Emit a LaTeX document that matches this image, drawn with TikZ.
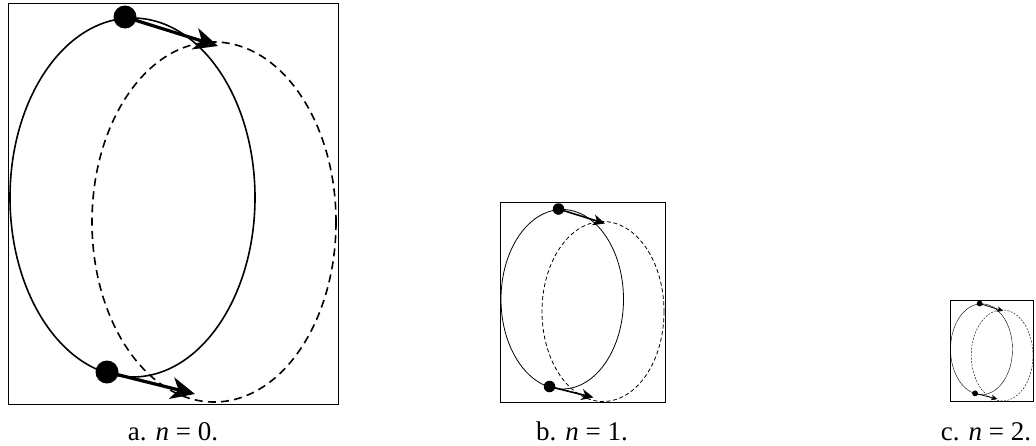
\documentclass[tikz,border=0pt]{standalone}
\usepackage{fontspec}
\setmainfont{Liberation Serif}
\usetikzlibrary{arrows.meta}
\newcommand\drawpanel[4]{%
  \pgfmathsetlengthmacro\lwell{#3*0.8pt}%
  \pgfmathsetlengthmacro\lwarr{#3*1.6pt}%
  \pgfmathsetlengthmacro\tiplen{#3*12pt}%
  \pgfmathsetlengthmacro\tipwid{#3*11pt}%
  \pgfmathsetlengthmacro\tipins{#3*3.5pt}%
  \pgfmathsetlengthmacro\dashon{#3*4pt}%
  \pgfmathsetlengthmacro\dashoff{#3*2.6pt}%
  \begin{scope}[shift={(#1,#2)}, scale=#3]
    \node[frame, minimum width=#3*165pt, minimum height=#3*200.5pt] (fr#4) at (165,200.5) {};
    \draw[line width=\lwell] (124.5,194.5) ellipse [x radius=122.5, y radius=179.5];
    \draw[line width=\lwell, dash pattern=on \dashon off \dashoff] (206,219) ellipse [x radius=122, y radius=180];
    \coordinate (tt#4) at (210,43);
    \coordinate (bt#4) at (187,391);
    \fill (117,14) circle (11.5);
    \fill (99,369) circle (11.5);
    \node[dotnode] (td#4) at (117,14) {};
    \node[dotnode] (bd#4) at (99,369) {};
    \draw[line width=\lwarr, -{Stealth[length=\tiplen, width=\tipwid, inset=\tipins]}] (td#4.center) -- (tt#4);
    \draw[line width=\lwarr, -{Stealth[length=\tiplen, width=\tipwid, inset=\tipins]}] (bd#4.center) -- (bt#4);
  \end{scope}}
\begin{document}
\begin{tikzpicture}[x=0.5pt, y=-0.5pt,
  frame/.style={draw, line width=0.5pt, inner sep=0pt, outer sep=0pt},
  dotnode/.style={inner sep=0pt, minimum size=0pt},
  caption/.style={font=\fontsize{13.5}{15}\selectfont, inner sep=0pt, anchor=base}]
  \useasboundingbox (0,0) rectangle (1036,445);
  \drawpanel{8}{3}{1}{a}
  \drawpanel{500}{202}{0.5}{b}
  \drawpanel{950}{300}{0.253}{c}
  \node[caption] (ca) at (173,440) {a. \textit{n} = 0.};
  \node[caption] (cb) at (582,440) {b. \textit{n} = 1.};
  \node[caption] (cc) at (986,440) {c. \textit{n} = 2.};
\end{tikzpicture}
\end{document}
